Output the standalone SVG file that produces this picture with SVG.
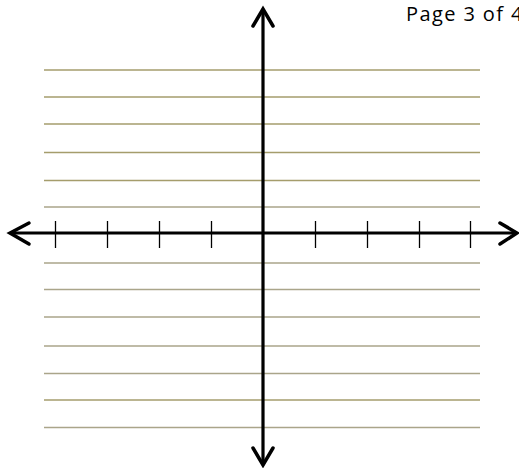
<svg xmlns="http://www.w3.org/2000/svg" width="519" height="468" viewBox="0 0 519 468">
<style>
.rule{stroke:#a59d6c;stroke-width:1.3;fill:none}
.rule2{stroke:#aaa58a;stroke-width:1.3;fill:none}
.axis{stroke:#000;stroke-width:3.2;fill:none}
.head{stroke:#000;stroke-width:3.5;fill:none;stroke-linecap:round;stroke-linejoin:miter}
.tick{stroke:#000;stroke-width:1.3}
.label{font-family:"Open Sans","Noto Sans",sans-serif;font-size:20px;letter-spacing:1.4px;fill:#000}
</style>
<rect width="519" height="468" fill="#fff"/>
<g id="rules">
<line class="rule" x1="44" y1="70" x2="480" y2="70"/>
<line class="rule" x1="44" y1="97" x2="480" y2="97"/>
<line class="rule" x1="44" y1="124" x2="480" y2="124"/>
<line class="rule" x1="44" y1="152.5" x2="480" y2="152.5"/>
<line class="rule" x1="44" y1="180.5" x2="480" y2="180.5"/>
<line class="rule2" x1="44" y1="207" x2="480" y2="207"/>
<line class="rule2" x1="44" y1="263" x2="480" y2="263"/>
<line class="rule2" x1="44" y1="289.5" x2="480" y2="289.5"/>
<line class="rule2" x1="44" y1="317" x2="480" y2="317"/>
<line class="rule2" x1="44" y1="346" x2="480" y2="346"/>
<line class="rule2" x1="44" y1="373.5" x2="480" y2="373.5"/>
<line class="rule" x1="44" y1="400" x2="480" y2="400"/>
<line class="rule2" x1="44" y1="427.5" x2="480" y2="427.5"/>
</g>
<g id="connectors">
<line class="axis" x1="263" y1="10" x2="263" y2="463"/>
<line class="axis" x1="11" y1="233" x2="516" y2="233"/>
<polyline class="head" points="253,26 263,9 273,26"/>
<polyline class="head" points="253,448 263,465 273,448"/>
<polyline class="head" points="29,223 10,233 29,244"/>
<polyline class="head" points="500,223 517,233 500,244"/>
</g>
<g id="ticks">
<line class="tick" x1="55.5" y1="221" x2="55.5" y2="248"/>
<line class="tick" x1="107.5" y1="221" x2="107.5" y2="248"/>
<line class="tick" x1="159.5" y1="221" x2="159.5" y2="248"/>
<line class="tick" x1="211.5" y1="221" x2="211.5" y2="248"/>
<line class="tick" x1="315.5" y1="221" x2="315.5" y2="248"/>
<line class="tick" x1="367.5" y1="221" x2="367.5" y2="248"/>
<line class="tick" x1="419.5" y1="221" x2="419.5" y2="248"/>
<line class="tick" x1="470.5" y1="221" x2="470.5" y2="248"/>
</g>
<g id="page-label">
<text class="label" x="406" y="21">Page 3 of 4</text>
</g>
</svg>
